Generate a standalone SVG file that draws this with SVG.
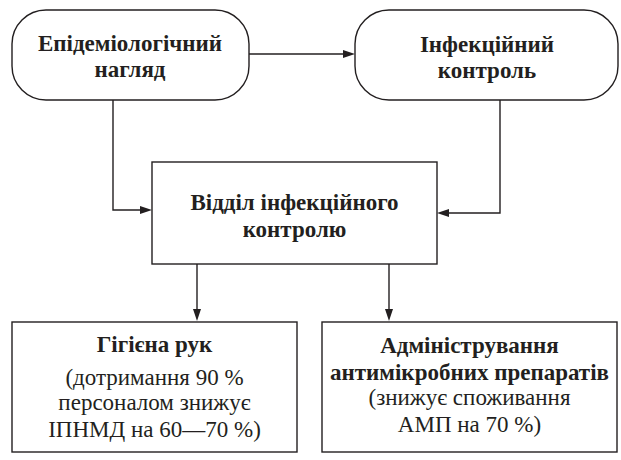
<svg xmlns="http://www.w3.org/2000/svg" width="621" height="460" viewBox="0 0 621 460">
<style>
.box{fill:#fff;stroke:#231f20;stroke-width:1.4}
.ln{fill:none;stroke:#231f20;stroke-width:1.4}
.hd{fill:#231f20;stroke:none}
</style>
<rect width="621" height="460" fill="#fff"/>
<g id="connectors">
<path class="ln" d="M249,54 H344"/>
<polygon class="hd" points="355,54 343,50 343,58"/>
<path class="ln" d="M113,100 V210 H141"/>
<polygon class="hd" points="152,210 140,206 140,214"/>
<path class="ln" d="M500,100 V213 H448"/>
<polygon class="hd" points="437,213 449,209 449,217"/>
<path class="ln" d="M197,264 V310"/>
<polygon class="hd" points="197,321 193,309 201,309"/>
<path class="ln" d="M389,264 V310"/>
<polygon class="hd" points="389,321 385,309 393,309"/>
</g>
<g id="epid">
<rect class="box" x="12" y="10" width="237" height="90" rx="34" ry="34"/>
<text font-family="Liberation Serif" font-weight="bold" font-size="23" fill="#231f20" text-anchor="middle" x="130" y="51">Епідеміологічний</text>
<text font-family="Liberation Serif" font-weight="bold" font-size="23" fill="#231f20" text-anchor="middle" x="130" y="77">нагляд</text>
</g>
<g id="infcontrol">
<rect class="box" x="355" y="10" width="263" height="90" rx="34" ry="34"/>
<text font-family="Liberation Serif" font-weight="bold" font-size="23" fill="#231f20" text-anchor="middle" x="487" y="52">Інфекційний</text>
<text font-family="Liberation Serif" font-weight="bold" font-size="23" fill="#231f20" text-anchor="middle" x="487" y="78">контроль</text>
</g>
<g id="dept">
<rect class="box" x="152" y="162" width="285" height="102"/>
<text font-family="Liberation Serif" font-weight="bold" font-size="23" fill="#231f20" text-anchor="middle" x="294.5" y="210">Відділ інфекційного</text>
<text font-family="Liberation Serif" font-weight="bold" font-size="23" fill="#231f20" text-anchor="middle" x="294.5" y="237">контролю</text>
</g>
<g id="hands">
<rect class="box" x="12" y="322" width="285" height="130"/>
<text font-family="Liberation Serif" font-weight="bold" font-size="23" fill="#231f20" text-anchor="middle" x="154.5" y="352">Гігієна рук</text>
<text font-family="Liberation Serif" font-size="23" fill="#231f20" text-anchor="middle" x="154.5" y="385">(дотримання 90 %</text>
<text font-family="Liberation Serif" font-size="23" fill="#231f20" text-anchor="middle" x="154.5" y="410">персоналом знижує</text>
<text font-family="Liberation Serif" font-size="23" fill="#231f20" text-anchor="middle" x="154.5" y="437">ІПНМД на 60—70 %)</text>
</g>
<g id="amp">
<rect class="box" x="322" y="322" width="295" height="130"/>
<text font-family="Liberation Serif" font-weight="bold" font-size="23" fill="#231f20" text-anchor="middle" x="469.5" y="353">Адміністрування</text>
<text font-family="Liberation Serif" font-weight="bold" font-size="23" fill="#231f20" text-anchor="middle" x="469.5" y="380">антимікробних препаратів</text>
<text font-family="Liberation Serif" font-size="23" fill="#231f20" text-anchor="middle" x="469.5" y="405">(знижує споживання</text>
<text font-family="Liberation Serif" font-size="23" fill="#231f20" text-anchor="middle" x="469.5" y="432">АМП на 70 %)</text>
</g>
</svg>
